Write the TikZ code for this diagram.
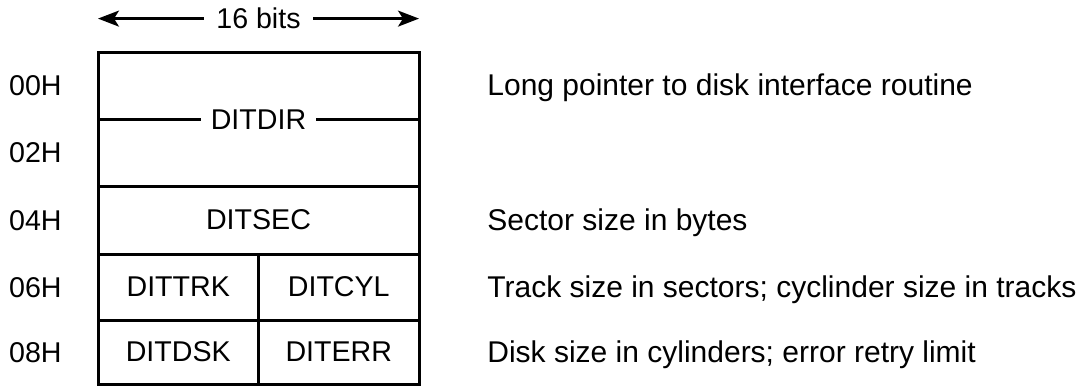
\documentclass[tikz,border=0pt]{standalone}
\usepackage{fontspec}
\setmainfont{Liberation Sans}
\usetikzlibrary{positioning,arrows.meta}
\tikzstyle{field} = [rectangle, draw, line width=1.5pt, outer sep=0pt,
    minimum width=160.5pt, text centered, inner sep=0pt,
    font=\fontsize{14.3}{16}\selectfont]
\tikzstyle{halffield} = [field, minimum width=80.25pt]
\tikzstyle{addr} = [inner sep=0pt, text height=10pt, text depth=0pt,
    font=\fontsize{14.3}{16}\selectfont]
\tikzstyle{desc} = [inner sep=0pt, text height=10pt, text depth=0pt,
    font=\fontsize{15}{16}\selectfont]
\tikzstyle{widtharrow} = [line width=1.2pt, -{Stealth[length=10.5pt,width=8pt,inset=2.5pt]}]

\begin{document}
\begin{tikzpicture}
    \useasboundingbox (0,0) rectangle (541pt,-193pt);

    \node[field, minimum height=33.5pt, anchor=north west] (ditdirHi) at (49pt,-26pt) {};
    \node[field, minimum height=33.5pt, below=0pt of ditdirHi] (ditdirLo) {};
    \node[field, minimum height=34pt, below=0pt of ditdirLo] (ditsec) {DITSEC};
    \node[halffield, minimum height=33pt, below right=0pt of ditsec.south west] (dittrk) {DITTRK};
    \node[halffield, minimum height=33pt, right=0pt of dittrk] (ditcyl) {DITCYL};
    \node[halffield, minimum height=32pt, below=0pt of dittrk] (ditdsk) {DITDSK};
    \node[halffield, minimum height=32pt, right=0pt of ditdsk] (diterr) {DITERR};
    \node[addr, fill=white, inner xsep=5pt] (ditdir) at (ditdirHi.south) {DITDIR};

    \node[addr, inner xsep=6pt, above=11.5pt of ditdirHi] (bits) {16 bits};
    \draw[widtharrow] (bits.west) -- (bits.west -| ditdirHi.west);
    \draw[widtharrow] (bits.east) -- (bits.east -| ditdirHi.east);

    \node[addr, left=18pt of ditdirHi] (a00) {00H};
    \node[addr, left=18pt of ditdirLo] (a02) {02H};
    \node[addr, left=18pt of ditsec] (a04) {04H};
    \node[addr, left=18pt of dittrk] (a06) {06H};
    \node[addr, left=18pt of ditdsk] (a08) {08H};

    \node[desc, right=34pt of ditdirHi] (pointer) {Long pointer to disk interface routine};
    \node[desc, right=34pt of ditsec] (secsize) {Sector size in bytes};
    \node[desc, right=34pt of ditcyl] (trksize) {Track size in sectors; cyclinder size in tracks};
    \node[desc, right=34pt of diterr] (dsksize) {Disk size in cylinders; error retry limit};
\end{tikzpicture}
\end{document}
